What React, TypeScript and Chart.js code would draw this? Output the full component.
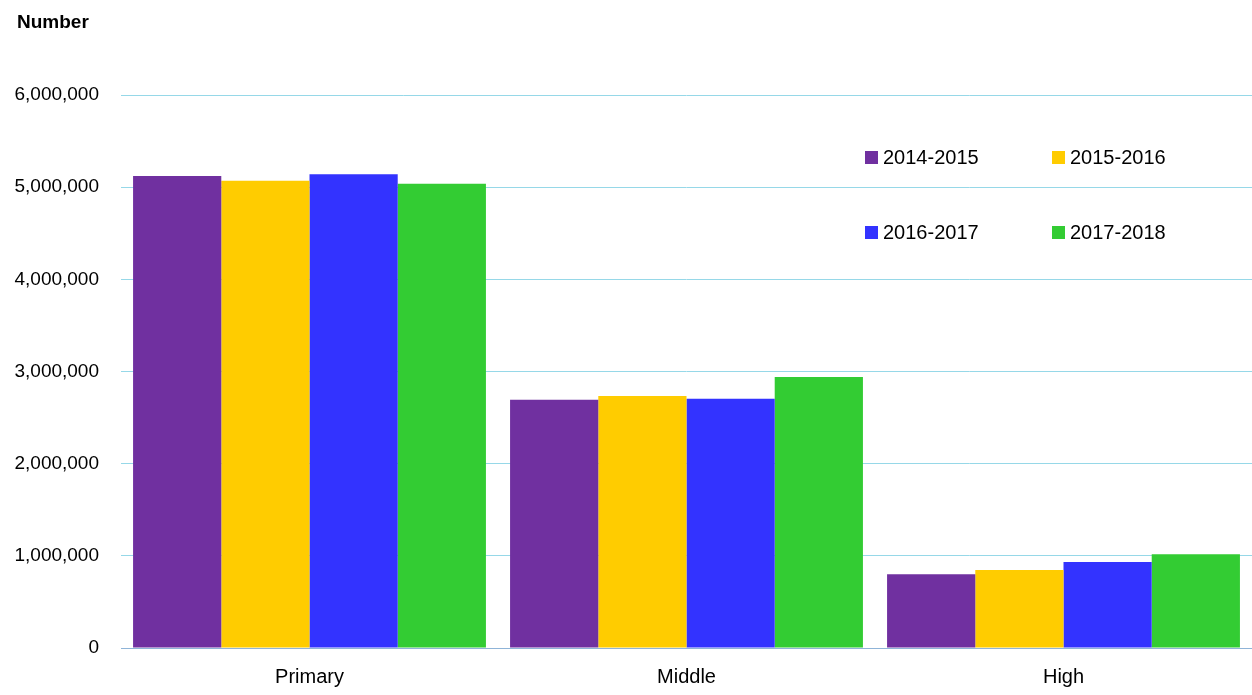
import React, { useEffect, useRef } from "react";
import { Chart, registerables } from "chart.js";

Chart.register(...registerables);

const categories = ["Primary", "Middle", "High"];
const seriesLabels = ["2014-2015", "2015-2016", "2016-2017", "2017-2018"];
const s2014 = [5121000, 2694000, 800000];
const s2015 = [5070000, 2734000, 846000];
const s2016 = [5139000, 2705000, 933000];
const s2017 = [5038000, 2940000, 1016000];
const seriesColors = ["#7030a0", "#ffcc00", "#3333ff", "#33cc33"];
const yTicks = [0, 1000000, 2000000, 3000000, 4000000, 5000000, 6000000];

const FONT = "Arial, 'Liberation Sans', sans-serif";

export default function App() {
  const ref = useRef<HTMLCanvasElement | null>(null);

  useEffect(() => {
    if (!ref.current) return;
    const values = [s2014, s2015, s2016, s2017];
    const titlePlugin = {
      id: "yTitle",
      afterDraw(chart: any) {
        const ctx = chart.ctx;
        ctx.save();
        ctx.font = `bold 19px ${FONT}`;
        ctx.fillStyle = "#000";
        ctx.textBaseline = "middle";
        ctx.textAlign = "left";
        ctx.fillText("Number", 17, 23);
        ctx.restore();
      },
    };
    const chart = new Chart(ref.current, {
      type: "bar",
      data: {
        labels: categories,
        datasets: seriesLabels.map((l, i) => ({
          label: l,
          data: values[i],
          backgroundColor: seriesColors[i],
          borderWidth: 0,
          categoryPercentage: 0.936,
          barPercentage: 1,
        })),
      },
      options: {
        responsive: false,
        animation: false,
        layout: { padding: { top: 95, right: 0, bottom: 0, left: 0 } },
        plugins: {
          legend: { display: false },
          tooltip: { enabled: false },
          title: { display: false },
        },
        scales: {
          x: {
            grid: { display: false },
            border: { display: true, color: "#8fb4d8", width: 1 },
            ticks: {
              color: "#000",
              font: { family: FONT, size: 20 },
              padding: 9,
            },
            afterFit: (scale: any) => {
              scale.height = 47;
            },
          },
          y: {
            min: 0,
            max: 6000000,
            afterBuildTicks: (scale: any) => {
              scale.ticks = yTicks.map((v) => ({ value: v }));
            },
            grid: {
              drawTicks: false,
              color: "rgb(150, 216, 232)",
              lineWidth: 1,
            },
            border: { display: false },
            ticks: {
              color: "#000",
              font: { family: FONT, size: 19 },
              padding: 22,
              callback: (v: any) => Number(v).toLocaleString("en-US"),
            },
            afterFit: (scale: any) => {
              scale.width = 121;
            },
          },
        },
      },
      plugins: [titlePlugin],
    });
    return () => chart.destroy();
  }, []);

  const legendPos = [
    { x: 865, y: 157 },
    { x: 1052, y: 157 },
    { x: 865, y: 232 },
    { x: 1052, y: 232 },
  ];

  return (
    <div style={{ position: "absolute", left: 0, top: 0, width: 1252, height: 695, background: "#fff" }}>
      <canvas ref={ref} width={1252} height={695} style={{ display: "block" }} />
      {seriesLabels.map((l, i) => (
        <div
          key={l}
          style={{
            position: "absolute",
            left: legendPos[i].x,
            top: legendPos[i].y - 12,
            height: 24,
            display: "flex",
            alignItems: "center",
            fontFamily: FONT,
            fontSize: 20,
            color: "#000",
            whiteSpace: "nowrap",
          }}
        >
          <span style={{ display: "inline-block", width: 13, height: 13, background: seriesColors[i], marginRight: 5 }} />
          {l}
        </div>
      ))}
    </div>
  );
}
